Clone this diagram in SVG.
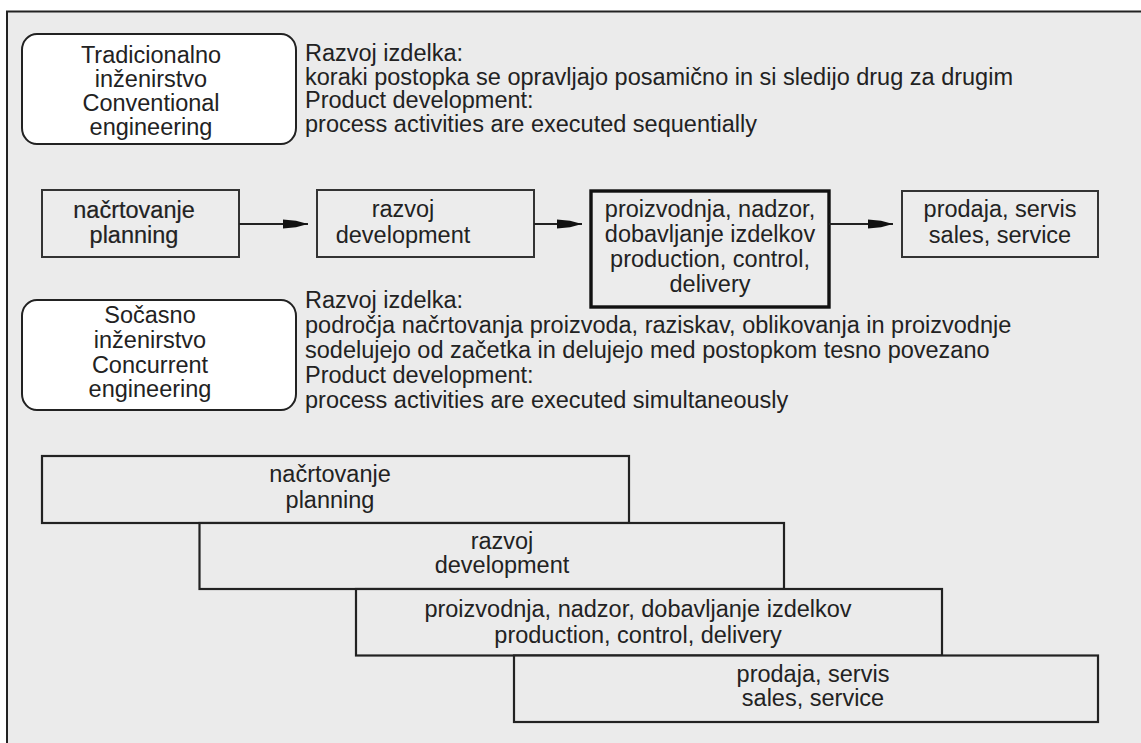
<svg xmlns="http://www.w3.org/2000/svg" width="1141" height="743" viewBox="0 0 1141 743">
<style>
  text { font-family: "Liberation Sans", Arial, sans-serif; font-size: 23.5px; fill: #222; }
  .c { text-anchor: middle; }
  .heavy { stroke: #222; stroke-width: 0.2; }
  .round { fill: #ffffff; stroke: #222; stroke-width: 2; }
  .box { fill: #ececec; stroke: #333; stroke-width: 2; }
  .boxb { fill: #ececec; stroke: #111; stroke-width: 3.4; }
  .stair { fill: #ebebeb; stroke: #222; stroke-width: 2.2; }
  .conn { stroke: #222; stroke-width: 2; fill: none; marker-end: url(#arr); }
</style>
<defs>
  <marker id="arr" viewBox="0 0 25 10" markerWidth="25" markerHeight="10" refX="25" refY="5" orient="auto" markerUnits="userSpaceOnUse">
    <path d="M0,0.5 L13,1.8 L25,5 L13,8.2 L0,9.5 Z" fill="#111"/>
  </marker>
</defs>
<rect x="0" y="0" width="1141" height="743" fill="#ffffff"/>
<g id="frame">
  <rect x="7" y="11.5" width="1150" height="750" fill="#ebebeb" stroke="#222" stroke-width="2"/>
</g>

<g id="conventional">
  <rect class="round" x="22" y="34" width="274" height="110" rx="15" ry="16"/>
  <text class="c" x="151" y="63">Tradicionalno</text>
  <text class="c" x="151" y="87">inženirstvo</text>
  <text class="c" x="151" y="111">Conventional</text>
  <text class="c" x="151" y="135">engineering</text>
</g>
<g id="conventional-desc">
  <text x="305" y="61">Razvoj izdelka:</text>
  <text x="305" y="84.5">koraki postopka se opravljajo posamično in si sledijo drug za drugim</text>
  <text x="305" y="108">Product development:</text>
  <text x="305" y="132">process activities are executed sequentially</text>
</g>

<g id="seq-planning">
  <rect class="box" x="42" y="190" width="197" height="67"/>
  <text class="c heavy" x="134" y="218">načrtovanje</text>
  <text class="c heavy" x="134" y="243">planning</text>
</g>
<g id="seq-development">
  <rect class="box" x="317" y="190" width="217" height="67"/>
  <text class="c" x="403" y="217">razvoj</text>
  <text class="c" x="403" y="243">development</text>
</g>
<g id="seq-production">
  <rect class="boxb" x="591" y="191" width="238" height="116"/>
  <text class="c" x="710" y="217">proizvodnja, nadzor,</text>
  <text class="c" x="710" y="242">dobavljanje izdelkov</text>
  <text class="c" x="710" y="267">production, control,</text>
  <text class="c" x="710" y="292">delivery</text>
</g>
<g id="seq-sales">
  <rect class="box" x="902" y="191" width="196" height="66"/>
  <text class="c" x="1000" y="217">prodaja, servis</text>
  <text class="c" x="1000" y="243">sales, service</text>
</g>

<g id="connectors">
  <line class="conn" x1="239" y1="224" x2="308" y2="224"/>
  <line class="conn" x1="534" y1="224" x2="582" y2="224"/>
  <line class="conn" x1="829" y1="224" x2="893" y2="224"/>
</g>

<g id="concurrent">
  <rect class="round" x="22" y="300" width="274" height="110" rx="15" ry="16"/>
  <text class="c" x="150" y="323">Sočasno</text>
  <text class="c" x="150" y="348">inženirstvo</text>
  <text class="c" x="150" y="373">Concurrent</text>
  <text class="c" x="150" y="397">engineering</text>
</g>
<g id="concurrent-desc">
  <text x="305" y="308">Razvoj izdelka:</text>
  <text x="305" y="333">področja načrtovanja proizvoda, raziskav, oblikovanja in proizvodnje</text>
  <text x="305" y="358">sodelujejo od začetka in delujejo med postopkom tesno povezano</text>
  <text x="305" y="383">Product development:</text>
  <text x="305" y="408">process activities are executed simultaneously</text>
</g>

<g id="par-planning">
  <rect class="stair" x="42" y="456" width="587" height="67"/>
  <text class="c" x="330" y="482">načrtovanje</text>
  <text class="c" x="330" y="508">planning</text>
</g>
<g id="par-development">
  <rect class="stair" x="199.5" y="523" width="584.5" height="66"/>
  <text class="c" x="502" y="549">razvoj</text>
  <text class="c" x="502" y="573">development</text>
</g>
<g id="par-production">
  <rect class="stair" x="356" y="589" width="586" height="66.5"/>
  <text class="c" x="638" y="617">proizvodnja, nadzor, dobavljanje izdelkov</text>
  <text class="c" x="638" y="643">production, control, delivery</text>
</g>
<g id="par-sales">
  <rect class="stair" x="514" y="655.5" width="584" height="66.5"/>
  <text class="c" x="813" y="682">prodaja, servis</text>
  <text class="c" x="813" y="706">sales, service</text>
</g>
</svg>
